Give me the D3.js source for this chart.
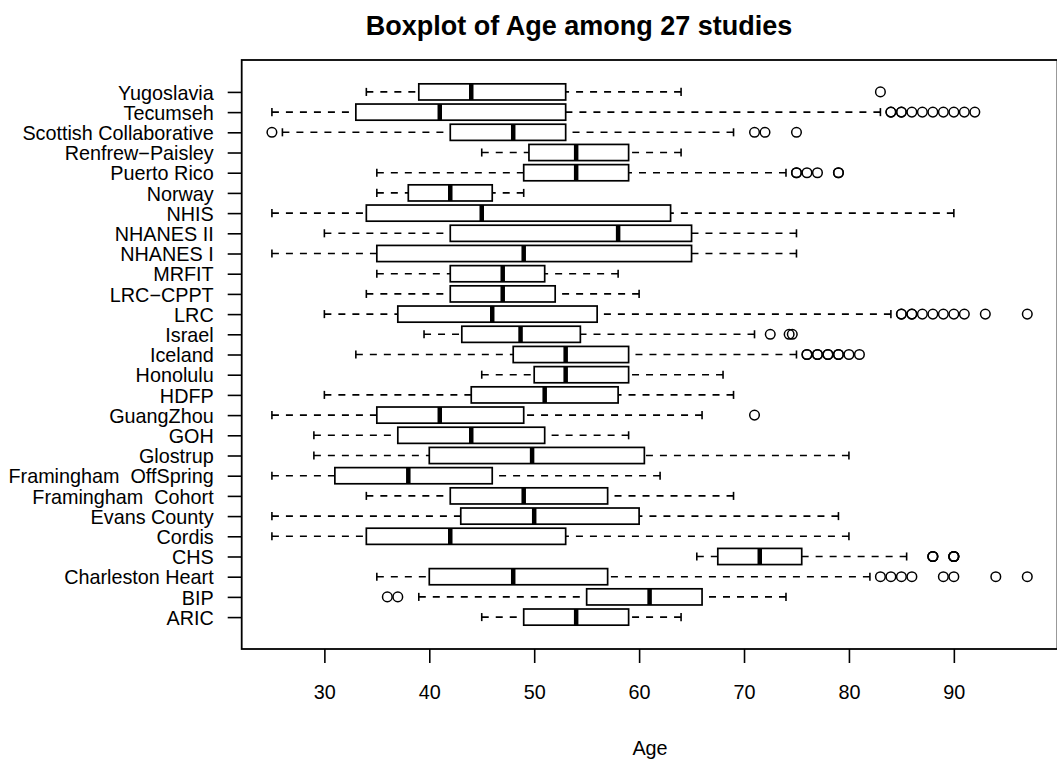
<!DOCTYPE html>
<html>
<head>
<meta charset="utf-8">
<script src="https://cdn.jsdelivr.net/npm/d3@7"></script>
<style>
  html, body { margin: 0; padding: 0; background: #fff; }
  svg { display: block; font-family: "Liberation Sans", Arial, Helvetica, sans-serif; }
  text { white-space: pre; }
</style>
</head>
<body>
<svg id="chart" width="1057" height="761"></svg>
<script>
// Studies listed bottom-to-top (position 1 = ARIC at the bottom)
const studies = [
  "ARIC", "BIP", "Charleston Heart", "CHS", "Cordis", "Evans County",
  "Framingham  Cohort", "Framingham  OffSpring", "Glostrup", "GOH", "GuangZhou",
  "HDFP", "Honolulu", "Iceland", "Israel", "LRC", "LRC\u2212CPPT", "MRFIT",
  "NHANES I", "NHANES II", "NHIS", "Norway", "Puerto Rico", "Renfrew\u2212Paisley",
  "Scottish Collaborative", "Tecumseh", "Yugoslavia"
];

// Five-number summaries (ages), same order as studies
const whiskerLow  = [45, 39, 35, 65.5, 25, 25, 34, 25, 29, 29, 25, 30, 45, 33, 39.5, 30, 34, 35, 25, 30, 25, 35, 35, 45, 26, 25, 34];
const lowerQuart  = [49, 55, 40, 67.5, 34, 43, 42, 31, 40, 37, 35, 44, 50, 48, 43.1, 37, 42, 42, 35, 42, 34, 38, 49, 49.5, 42, 33, 39];
const medianAge   = [54, 61, 48, 71.5, 42, 50, 49, 38, 49.8, 44, 41, 51, 53, 53, 48.7, 46, 47, 47, 49, 58, 45, 42, 54, 54, 48, 41, 44];
const upperQuart  = [59, 66, 57, 75.5, 53, 60, 57, 46, 60.5, 51, 49, 58, 59, 59, 54.4, 56, 52, 51, 65, 65, 63, 46, 59, 59, 53, 53, 53];
const whiskerHigh = [64, 74, 82, 85.5, 80, 79, 69, 62, 80, 59, 66, 69, 68, 75, 71, 84, 60, 58, 75, 75, 90, 49, 74, 64, 69, 83, 64];

// Outlying ages per study
const outliers = [
  [],
  [36, 37],
  [83, 84, 85, 86, 89, 90, 94, 97],
  [88, 88, 88, 90, 90, 90, 90],
  [], [], [], [], [], [],
  [71],
  [], [],
  [76, 76, 77, 77, 78, 78, 79, 79, 80, 81],
  [72.5, 74.3, 74.6],
  [85, 85, 86, 86, 87, 88, 89, 90, 91, 93, 97],
  [], [], [], [], [], [],
  [75, 75, 76, 77, 79, 79],
  [],
  [25, 71, 72, 75],
  [84, 84, 85, 85, 86, 87, 88, 89, 90, 91, 92],
  [83]
];

const ageTicks = [30, 40, 50, 60, 70, 80, 90];
const chartTitle = "Boxplot of Age among 27 studies";
const xLabel = "Age";

const svg = d3.select("#chart");
svg.append("rect").attr("width", 1057).attr("height", 761).attr("fill", "#fff");

const plot = { left: 241.7, right: 1057.5, top: 60, bottom: 649 };
const fontSize = 19.8;

// Age axis: data range padded by 4% on each side
const x = d3.scaleLinear().domain([22.12, 99.88]).range([plot.left, plot.right]);
// Study positions 1..27, padded range
const y = d3.scaleLinear().domain([-0.58, 28.58]).range([plot.bottom, plot.top]);

const halfBox = (y(0) - y(0.4));
const halfStaple = (y(0) - y(0.2));

const rows = studies.map((name, i) => ({
  name, pos: i + 1,
  lo: whiskerLow[i], q1: lowerQuart[i], med: medianAge[i], q3: upperQuart[i], hi: whiskerHigh[i],
  out: outliers[i]
}));

const g = svg.append("g");

const row = g.selectAll("g.study").data(rows).join("g").attr("class", "study");

// Whiskers (dashed), drawn from each whisker end toward the box
row.append("line")
  .attr("x1", d => x(d.lo)).attr("x2", d => x(d.q1))
  .attr("y1", d => y(d.pos)).attr("y2", d => y(d.pos))
  .attr("stroke", "#000").attr("stroke-width", 1.6).attr("stroke-dasharray", "7,7");
row.append("line")
  .attr("x1", d => x(d.hi)).attr("x2", d => x(d.q3))
  .attr("y1", d => y(d.pos)).attr("y2", d => y(d.pos))
  .attr("stroke", "#000").attr("stroke-width", 1.6).attr("stroke-dasharray", "7,7");

// Staples
row.selectAll("line.staple").data(d => [d.lo, d.hi].map(v => ({ v, pos: d.pos })))
  .join("line").attr("class", "staple")
  .attr("x1", d => x(d.v)).attr("x2", d => x(d.v))
  .attr("y1", d => y(d.pos) - halfStaple).attr("y2", d => y(d.pos) + halfStaple)
  .attr("stroke", "#000").attr("stroke-width", 1.6);

// Boxes
row.append("rect")
  .attr("x", d => x(d.q1)).attr("width", d => x(d.q3) - x(d.q1))
  .attr("y", d => y(d.pos) - halfBox).attr("height", 2 * halfBox)
  .attr("fill", "#fff").attr("stroke", "#000").attr("stroke-width", 1.7);

// Medians
row.append("line")
  .attr("x1", d => x(d.med)).attr("x2", d => x(d.med))
  .attr("y1", d => y(d.pos) - halfBox).attr("y2", d => y(d.pos) + halfBox)
  .attr("stroke", "#000").attr("stroke-width", 4.5);

// Outliers
row.selectAll("circle").data(d => d.out.map(v => ({ v, pos: d.pos })))
  .join("circle")
  .attr("cx", d => x(d.v)).attr("cy", d => y(d.pos)).attr("r", 4.8)
  .attr("fill", "none").attr("stroke", "#000").attr("stroke-width", 1.5);

// Frame around the plotting region
svg.append("rect")
  .attr("x", plot.left).attr("y", plot.top)
  .attr("width", plot.right - plot.left).attr("height", plot.bottom - plot.top)
  .attr("fill", "none").attr("stroke", "#000").attr("stroke-width", 1.8);

// Study axis
const yAxis = svg.append("g").attr("transform", `translate(${plot.left},0)`)
  .call(d3.axisLeft(y).tickValues(d3.range(1, studies.length + 1))
    .tickSize(14).tickPadding(14).tickFormat(p => studies[p - 1]));
yAxis.select(".domain").remove();
yAxis.selectAll("line").attr("stroke", "#000").attr("stroke-width", 1.6);
yAxis.selectAll("text").attr("font-size", fontSize).attr("fill", "#000")
  .attr("font-family", "'Liberation Sans', Arial, Helvetica, sans-serif").attr("dy", "0.36em");

// Age axis
const xAxis = svg.append("g").attr("transform", `translate(0,${plot.bottom})`)
  .call(d3.axisBottom(x).tickValues(ageTicks).tickSize(14).tickPadding(22).tickFormat(d3.format("d")));
xAxis.select(".domain").remove();
xAxis.selectAll("line").attr("stroke", "#000").attr("stroke-width", 1.6);
xAxis.selectAll("text").attr("font-size", fontSize).attr("fill", "#000")
  .attr("font-family", "'Liberation Sans', Arial, Helvetica, sans-serif");

// Title and axis label
svg.append("text").attr("x", 579).attr("y", 35).attr("text-anchor", "middle")
  .attr("font-size", 27).attr("font-weight", "bold").attr("fill", "#000").text(chartTitle);
svg.append("text").attr("x", 650).attr("y", 755).attr("text-anchor", "middle")
  .attr("font-size", fontSize).attr("fill", "#000").text(xLabel);
</script>
</body>
</html>
